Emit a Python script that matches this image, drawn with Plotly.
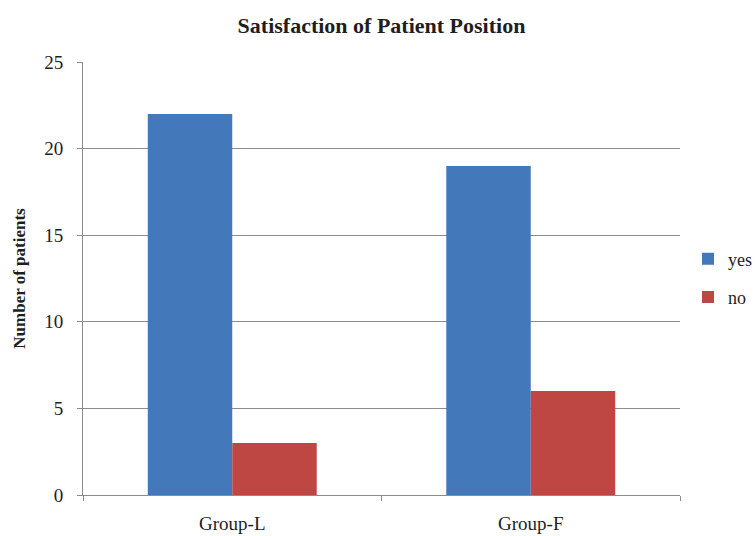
import plotly.graph_objects as go

categories = ["Group-L", "Group-F"]
yes_counts = [22, 19]
no_counts = [3, 6]
y_ticks = [0, 5, 10, 15, 20, 25]

FONT = "Liberation Serif"
TXT = "#1e1e1e"

fig = go.Figure()
fig.add_trace(go.Bar(name="yes", x=categories, y=yes_counts, legendgroup="yes",
                     marker=dict(color="#4378BB", line=dict(width=0))))
fig.add_trace(go.Bar(name="no", x=categories, y=no_counts, legendgroup="no",
                     marker=dict(color="#BE4744", line=dict(width=0))))

fig.update_layout(
    width=756, height=536,
    margin=dict(l=83, r=76, t=62, b=41, autoexpand=False),
    paper_bgcolor="white", plot_bgcolor="white",
    barmode="group", bargap=0.434, bargroupgap=0,
    font=dict(family=FONT, size=18, color=TXT),
    title=dict(text="<b>Satisfaction of Patient Position</b>", x=0.5, xanchor="center",
               xref="paper", y=1 - 25 / 536, yref="container", yanchor="middle",
               font=dict(family=FONT, size=22, color=TXT)),
    showlegend=True,
    legend=dict(xref="container", yref="container", x=688 / 756, y=1 - 278 / 536,
                xanchor="left", yanchor="middle",
                font=dict(family=FONT, size=18, color=TXT),
                itemwidth=30, tracegroupgap=12, bgcolor="rgba(0,0,0,0)"),
    xaxis=dict(showgrid=False, showline=True, linecolor="#8c8c8c", linewidth=1,
               ticks="outside", tickson="boundaries", ticklen=5, tickcolor="#8c8c8c",
               automargin=False,
               tickfont=dict(family=FONT, size=19, color=TXT), ticklabelstandoff=11),
    yaxis=dict(range=[0, 25], tickvals=y_ticks, showgrid=True, gridcolor="#8c8c8c",
               gridwidth=1, showline=True, linecolor="#8c8c8c", linewidth=1,
               ticks="outside", ticklen=5, tickcolor="#8c8c8c", zeroline=False,
               automargin=False, ticklabelstandoff=10,
               tickfont=dict(family=FONT, size=19, color=TXT),
               title=dict(text="<b>Number of patients</b>", standoff=14,
                          font=dict(family=FONT, size=17, color=TXT))),
)

fig.write_html("out.html")
